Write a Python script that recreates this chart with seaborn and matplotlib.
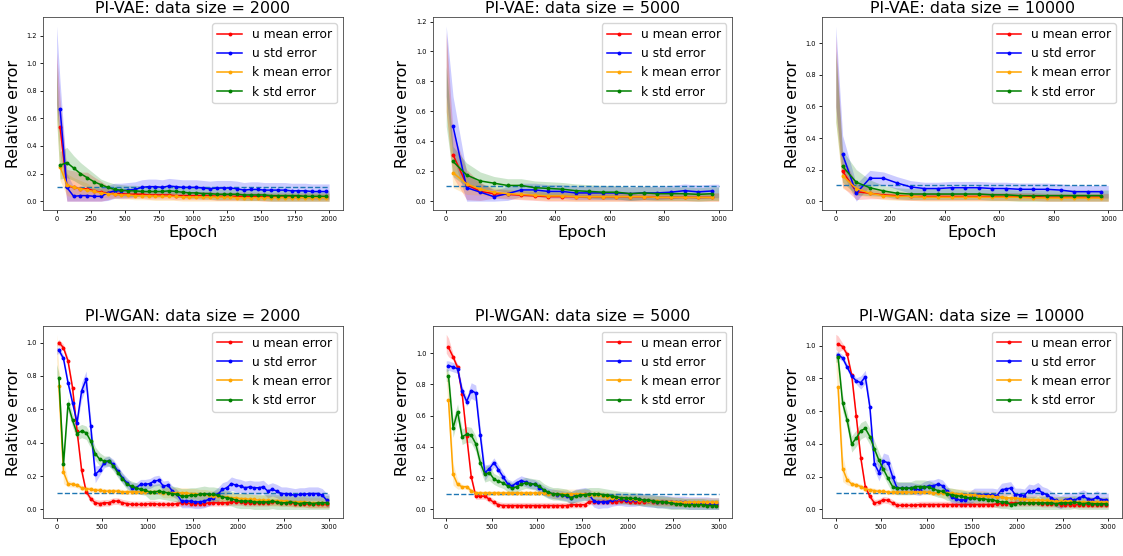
import numpy as np
import matplotlib
matplotlib.use("Agg")
import matplotlib.pyplot as plt
import seaborn as sns

SERIES = ["u mean error", "u std error", "k mean error", "k std error"]
COLORS = ["red", "blue", "orange", "green"]

# ---------------- PI-VAE, data size 2000 (2000 epochs, smoothed every 50) ----------------
vae2000_u_mean = [0.54, 0.11, 0.10, 0.09, 0.09, 0.075, 0.065, 0.06, 0.055, 0.055,
                  0.05, 0.05, 0.05, 0.045, 0.045, 0.045, 0.045, 0.04, 0.04, 0.04,
                  0.04, 0.04, 0.04, 0.035, 0.035, 0.035, 0.035, 0.035, 0.035, 0.035,
                  0.03, 0.03, 0.03, 0.03, 0.03, 0.03, 0.03, 0.03, 0.03, 0.03]
vae2000_u_std = [0.67, 0.10, 0.035, 0.04, 0.04, 0.035, 0.035, 0.06, 0.075, 0.075,
                 0.08, 0.085, 0.10, 0.105, 0.105, 0.10, 0.11, 0.105, 0.10, 0.10,
                 0.10, 0.095, 0.09, 0.095, 0.095, 0.095, 0.09, 0.08, 0.085, 0.085,
                 0.08, 0.08, 0.08, 0.08, 0.075, 0.075, 0.075, 0.07, 0.07, 0.07]
vae2000_k_mean = [0.25, 0.12, 0.10, 0.09, 0.08, 0.07, 0.06, 0.055, 0.05, 0.045,
                  0.045, 0.04, 0.04, 0.04, 0.035, 0.035, 0.035, 0.035, 0.03, 0.03,
                  0.03, 0.03, 0.03, 0.03, 0.03, 0.03, 0.025, 0.025, 0.025, 0.025,
                  0.025, 0.025, 0.025, 0.025, 0.025, 0.025, 0.025, 0.025, 0.025, 0.025]
vae2000_k_std = [0.26, 0.28, 0.24, 0.20, 0.17, 0.14, 0.12, 0.10, 0.085, 0.08,
                 0.075, 0.075, 0.07, 0.07, 0.07, 0.07, 0.075, 0.07, 0.065, 0.06,
                 0.06, 0.055, 0.055, 0.05, 0.05, 0.05, 0.05, 0.045, 0.045, 0.045,
                 0.045, 0.04, 0.04, 0.04, 0.04, 0.04, 0.035, 0.035, 0.035, 0.035]
# half-width of the raw (per-epoch) fluctuation around each smoothed point
vae2000_u_mean_spread = [0.2, 0.12, 0.12, 0.12, 0.12, 0.10, 0.08, 0.05] + [0.03] * 32
vae2000_u_std_spread = [0.2, 0.1, 0.07, 0.06, 0.06, 0.06, 0.06] + [0.055] * 33
vae2000_k_mean_spread = [0.1, 0.08, 0.07, 0.06, 0.05] + [0.03] * 35
vae2000_k_std_spread = [0.1, 0.11, 0.09, 0.08, 0.07, 0.06] + [0.04] * 34
# raw values at epoch 0 (upper / lower end of the initial spike)
vae2000_start_hi = [1.08, 1.27, 1.0, 1.0]
vae2000_start_lo = [0.7, 0.7, 0.6, 0.6]

# ---------------- PI-VAE, data size 5000 (1000 epochs) ----------------
vae5000_u_mean = [0.31, 0.11, 0.065, 0.05, 0.045, 0.04, 0.035, 0.03, 0.03, 0.03,
                  0.03, 0.03, 0.03, 0.03, 0.03, 0.025, 0.025, 0.025, 0.025, 0.025]
vae5000_u_std = [0.50, 0.09, 0.06, 0.03, 0.05, 0.075, 0.075, 0.065, 0.065, 0.055,
                 0.055, 0.055, 0.055, 0.05, 0.055, 0.055, 0.06, 0.07, 0.062, 0.068]
vae5000_k_mean = [0.19, 0.115, 0.08, 0.06, 0.05, 0.045, 0.04, 0.035, 0.035, 0.03,
                  0.03, 0.03, 0.03, 0.03, 0.03, 0.025, 0.025, 0.025, 0.025, 0.025]
vae5000_k_std = [0.265, 0.175, 0.135, 0.12, 0.105, 0.105, 0.09, 0.085, 0.08, 0.07,
                 0.065, 0.06, 0.06, 0.05, 0.055, 0.05, 0.05, 0.05, 0.045, 0.05]
vae5000_u_mean_spread = [0.15, 0.1, 0.06] + [0.03] * 17
vae5000_u_std_spread = [0.2, 0.1, 0.06] + [0.045] * 17
vae5000_k_mean_spread = [0.1, 0.07, 0.04] + [0.03] * 17
vae5000_k_std_spread = [0.1, 0.08, 0.06] + [0.045] * 17
vae5000_start_hi = [1.13, 1.17, 1.10, 0.90]
vae5000_start_lo = [0.6, 0.7, 0.6, 0.5]

# ---------------- PI-VAE, data size 10000 (1000 epochs) ----------------
vae10000_u_mean = [0.19, 0.06, 0.05, 0.04, 0.035, 0.03, 0.03, 0.03, 0.03, 0.03,
                   0.03, 0.03, 0.03, 0.03, 0.03, 0.025, 0.025, 0.025, 0.025, 0.025]
vae10000_u_std = [0.296, 0.05, 0.145, 0.145, 0.115, 0.09, 0.08, 0.08, 0.085, 0.085,
                  0.085, 0.08, 0.08, 0.075, 0.075, 0.075, 0.07, 0.06, 0.06, 0.06]
vae10000_k_mean = [0.16, 0.08, 0.05, 0.035, 0.03, 0.03, 0.025, 0.025, 0.025, 0.025,
                   0.025, 0.025, 0.025, 0.025, 0.02, 0.02, 0.02, 0.02, 0.02, 0.02]
vae10000_k_std = [0.22, 0.12, 0.085, 0.065, 0.05, 0.045, 0.045, 0.045, 0.045, 0.045,
                  0.045, 0.04, 0.04, 0.035, 0.035, 0.035, 0.035, 0.035, 0.035, 0.035]
vae10000_u_mean_spread = [0.1, 0.05, 0.035] + [0.025] * 17
vae10000_u_std_spread = [0.12, 0.06, 0.05] + [0.04] * 17
vae10000_k_mean_spread = [0.08, 0.04] + [0.025] * 18
vae10000_k_std_spread = [0.1, 0.08, 0.05] + [0.035] * 17
vae10000_start_hi = [1.05, 1.11, 0.95, 0.95]
vae10000_start_lo = [0.6, 0.6, 0.5, 0.5]

# ---------------- PI-WGAN, data size 2000 (3000 epochs) ----------------
wgan2000_u_mean = [1.00, 0.97, 0.89, 0.73, 0.47, 0.235, 0.107, 0.065, 0.04, 0.035,
                   0.04, 0.04, 0.05, 0.05, 0.04, 0.035, 0.03, 0.03, 0.03, 0.03,
                   0.035, 0.035, 0.03, 0.03, 0.03, 0.03, 0.035, 0.04, 0.04, 0.035,
                   0.035, 0.035, 0.035, 0.04, 0.04, 0.04, 0.04, 0.04, 0.045, 0.045,
                   0.045, 0.04, 0.04, 0.04, 0.04, 0.04, 0.04, 0.045, 0.045, 0.04,
                   0.04, 0.04, 0.035, 0.035, 0.035, 0.03, 0.03, 0.03, 0.03, 0.03]
wgan2000_u_std = [0.955, 0.905, 0.76, 0.64, 0.52, 0.71, 0.78, 0.50, 0.21, 0.235,
                  0.28, 0.29, 0.27, 0.23, 0.19, 0.16, 0.13, 0.13, 0.15, 0.15,
                  0.155, 0.17, 0.175, 0.14, 0.145, 0.11, 0.09, 0.05, 0.05, 0.05,
                  0.045, 0.045, 0.05, 0.06, 0.07, 0.09, 0.12, 0.13, 0.155, 0.145,
                  0.14, 0.13, 0.135, 0.13, 0.13, 0.135, 0.11, 0.12, 0.11, 0.095,
                  0.095, 0.09, 0.085, 0.09, 0.09, 0.095, 0.095, 0.095, 0.085, 0.055]
wgan2000_k_mean = [0.74, 0.225, 0.155, 0.15, 0.145, 0.13, 0.125, 0.12, 0.115, 0.115,
                   0.11, 0.11, 0.11, 0.11, 0.105, 0.105, 0.105, 0.105, 0.105, 0.105,
                   0.105, 0.105, 0.105, 0.10, 0.10, 0.10, 0.10, 0.10, 0.10, 0.095,
                   0.095, 0.09, 0.09, 0.085, 0.08, 0.08, 0.075, 0.075, 0.07, 0.07,
                   0.065, 0.065, 0.06, 0.06, 0.055, 0.055, 0.055, 0.05, 0.05, 0.05,
                   0.05, 0.045, 0.045, 0.045, 0.045, 0.04, 0.04, 0.04, 0.04, 0.04]
wgan2000_k_std = [0.79, 0.27, 0.63, 0.535, 0.455, 0.47, 0.46, 0.41, 0.335, 0.30,
                  0.29, 0.29, 0.26, 0.22, 0.185, 0.15, 0.14, 0.13, 0.12, 0.115,
                  0.105, 0.105, 0.11, 0.105, 0.10, 0.095, 0.09, 0.08, 0.08, 0.085,
                  0.085, 0.09, 0.095, 0.09, 0.09, 0.085, 0.075, 0.07, 0.065, 0.055,
                  0.05, 0.05, 0.05, 0.045, 0.045, 0.045, 0.045, 0.05, 0.045, 0.04,
                  0.04, 0.045, 0.04, 0.035, 0.04, 0.04, 0.035, 0.04, 0.04, 0.04]
wgan2000_u_mean_spread = [0.02] * 60
wgan2000_u_std_spread = [0.02] * 5 + [0.05] * 4 + [0.03] * 18 + [0.04] * 33
wgan2000_k_mean_spread = [0.10, 0.07, 0.02] + [0.015] * 20 + [0.03] * 37
wgan2000_k_std_spread = [0.03, 0.05] + [0.04] * 8 + [0.03] * 10 + [0.045] * 40
wgan2000_start_hi = [1.0, 0.97, 1.05, 0.87]
wgan2000_start_lo = [0.98, 0.93, 0.90, 0.80]

# ---------------- PI-WGAN, data size 5000 (3000 epochs) ----------------
wgan5000_u_mean = [1.036, 0.976, 0.908, 0.74, 0.47, 0.21, 0.085, 0.085, 0.085, 0.065,
                   0.045, 0.03, 0.025, 0.025, 0.025, 0.025, 0.025, 0.025, 0.025, 0.025,
                   0.025, 0.025, 0.025, 0.025, 0.025, 0.025, 0.025, 0.03, 0.03, 0.03,
                   0.03, 0.05, 0.05, 0.05, 0.05, 0.05, 0.05, 0.05, 0.055, 0.055,
                   0.05, 0.05, 0.05, 0.05, 0.055, 0.05, 0.045, 0.05, 0.045, 0.045,
                   0.04, 0.04, 0.04, 0.035, 0.035, 0.035, 0.035, 0.03, 0.03, 0.03]
wgan5000_u_std = [0.92, 0.91, 0.90, 0.76, 0.69, 0.76, 0.745, 0.475, 0.235, 0.26,
                  0.30, 0.255, 0.21, 0.165, 0.15, 0.17, 0.185, 0.175, 0.165, 0.16,
                  0.14, 0.12, 0.105, 0.10, 0.095, 0.09, 0.085, 0.075, 0.09, 0.095,
                  0.10, 0.09, 0.055, 0.045, 0.05, 0.05, 0.06, 0.065, 0.065, 0.06,
                  0.06, 0.06, 0.065, 0.06, 0.055, 0.055, 0.05, 0.05, 0.05, 0.045,
                  0.045, 0.045, 0.045, 0.04, 0.04, 0.04, 0.04, 0.04, 0.035, 0.035]
wgan5000_k_mean = [0.70, 0.225, 0.16, 0.145, 0.145, 0.12, 0.105, 0.105, 0.105, 0.105,
                   0.105, 0.105, 0.105, 0.105, 0.105, 0.105, 0.105, 0.105, 0.105, 0.105,
                   0.105, 0.105, 0.10, 0.10, 0.10, 0.10, 0.10, 0.10, 0.10, 0.10,
                   0.10, 0.095, 0.09, 0.09, 0.085, 0.08, 0.075, 0.075, 0.07, 0.07,
                   0.065, 0.065, 0.06, 0.06, 0.055, 0.055, 0.055, 0.05, 0.05, 0.05,
                   0.05, 0.045, 0.045, 0.045, 0.045, 0.045, 0.045, 0.045, 0.045, 0.045]
wgan5000_k_std = [0.855, 0.52, 0.625, 0.465, 0.48, 0.475, 0.42, 0.30, 0.225, 0.235,
                  0.195, 0.18, 0.17, 0.15, 0.135, 0.145, 0.16, 0.17, 0.165, 0.16,
                  0.15, 0.125, 0.11, 0.10, 0.10, 0.095, 0.09, 0.075, 0.085, 0.09,
                  0.095, 0.10, 0.10, 0.10, 0.095, 0.09, 0.085, 0.08, 0.075, 0.075,
                  0.07, 0.07, 0.065, 0.06, 0.06, 0.055, 0.05, 0.05, 0.045, 0.04,
                  0.035, 0.035, 0.03, 0.03, 0.03, 0.03, 0.03, 0.025, 0.025, 0.025]
wgan5000_u_mean_spread = [0.06, 0.02] + [0.02] * 58
wgan5000_u_std_spread = [0.03] * 5 + [0.05] * 4 + [0.03] * 18 + [0.04] * 33
wgan5000_k_mean_spread = [0.12, 0.07, 0.03] + [0.015] * 20 + [0.03] * 37
wgan5000_k_std_spread = [0.04, 0.06] + [0.05] * 8 + [0.035] * 10 + [0.04] * 40
wgan5000_start_hi = [1.12, 0.95, 0.93, 0.90]
wgan5000_start_lo = [1.0, 0.88, 0.85, 0.82]

# ---------------- PI-WGAN, data size 10000 (3000 epochs) ----------------
wgan10000_u_mean = [1.01, 0.995, 0.947, 0.82, 0.57, 0.315, 0.137, 0.08, 0.04, 0.045,
                    0.06, 0.055, 0.04, 0.025, 0.025, 0.025, 0.025, 0.025, 0.03, 0.03,
                    0.03, 0.03, 0.03, 0.03, 0.03, 0.03, 0.03, 0.03, 0.03, 0.03,
                    0.03, 0.03, 0.03, 0.03, 0.03, 0.035, 0.035, 0.035, 0.04, 0.04,
                    0.04, 0.04, 0.04, 0.04, 0.04, 0.035, 0.035, 0.035, 0.035, 0.03,
                    0.03, 0.03, 0.03, 0.03, 0.03, 0.03, 0.03, 0.03, 0.03, 0.03]
wgan10000_u_std = [0.945, 0.925, 0.87, 0.815, 0.785, 0.775, 0.81, 0.625, 0.28, 0.225,
                   0.295, 0.285, 0.20, 0.13, 0.13, 0.13, 0.13, 0.125, 0.12, 0.135,
                   0.145, 0.145, 0.155, 0.145, 0.11, 0.075, 0.065, 0.055, 0.06, 0.07,
                   0.09, 0.09, 0.09, 0.09, 0.09, 0.085, 0.12, 0.125, 0.13, 0.09,
                   0.09, 0.085, 0.115, 0.11, 0.125, 0.10, 0.09, 0.07, 0.055, 0.045,
                   0.06, 0.065, 0.055, 0.07, 0.08, 0.065, 0.06, 0.075, 0.06, 0.06]
wgan10000_k_mean = [0.745, 0.25, 0.18, 0.155, 0.15, 0.14, 0.125, 0.12, 0.115, 0.11,
                    0.11, 0.105, 0.105, 0.105, 0.105, 0.105, 0.105, 0.105, 0.105, 0.105,
                    0.105, 0.10, 0.10, 0.10, 0.10, 0.10, 0.095, 0.095, 0.09, 0.09,
                    0.09, 0.085, 0.085, 0.08, 0.08, 0.075, 0.075, 0.07, 0.07, 0.07,
                    0.065, 0.065, 0.06, 0.06, 0.06, 0.055, 0.055, 0.05, 0.05, 0.05,
                    0.05, 0.05, 0.045, 0.045, 0.045, 0.045, 0.045, 0.045, 0.045, 0.045]
wgan10000_k_std = [0.93, 0.65, 0.545, 0.40, 0.435, 0.48, 0.495, 0.445, 0.37, 0.30,
                   0.245, 0.19, 0.14, 0.13, 0.13, 0.13, 0.13, 0.14, 0.14, 0.14,
                   0.135, 0.125, 0.115, 0.11, 0.095, 0.09, 0.085, 0.08, 0.075, 0.07,
                   0.07, 0.065, 0.065, 0.06, 0.06, 0.05, 0.045, 0.045, 0.03, 0.035,
                   0.04, 0.04, 0.04, 0.04, 0.04, 0.04, 0.04, 0.04, 0.035, 0.04,
                   0.04, 0.04, 0.045, 0.04, 0.035, 0.04, 0.035, 0.035, 0.035, 0.035]
wgan10000_u_mean_spread = [0.05] + [0.02] * 59
wgan10000_u_std_spread = [0.02] * 5 + [0.04] * 4 + [0.05] * 4 + [0.035] * 14 + [0.04] * 33
wgan10000_k_mean_spread = [0.15, 0.08, 0.03] + [0.015] * 20 + [0.03] * 37
wgan10000_k_std_spread = [0.03, 0.05] + [0.05] * 8 + [0.04] * 10 + [0.04] * 40
wgan10000_start_hi = [1.07, 0.96, 0.97, 0.95]
wgan10000_start_lo = [0.98, 0.92, 0.90, 0.90]

titles = ["PI-VAE: data size = 2000", "PI-VAE: data size = 5000",
          "PI-VAE: data size = 10000", "PI-WGAN: data size = 2000",
          "PI-WGAN: data size = 5000", "PI-WGAN: data size = 10000"]
n_epochs = [2000, 1000, 1000, 3000, 3000, 3000]
x_ticks = [np.arange(0, 2001, 250), np.arange(0, 1001, 200), np.arange(0, 1001, 200),
           np.arange(0, 3001, 500), np.arange(0, 3001, 500), np.arange(0, 3001, 500)]

panel_means = [
    [vae2000_u_mean, vae2000_u_std, vae2000_k_mean, vae2000_k_std],
    [vae5000_u_mean, vae5000_u_std, vae5000_k_mean, vae5000_k_std],
    [vae10000_u_mean, vae10000_u_std, vae10000_k_mean, vae10000_k_std],
    [wgan2000_u_mean, wgan2000_u_std, wgan2000_k_mean, wgan2000_k_std],
    [wgan5000_u_mean, wgan5000_u_std, wgan5000_k_mean, wgan5000_k_std],
    [wgan10000_u_mean, wgan10000_u_std, wgan10000_k_mean, wgan10000_k_std],
]
panel_spreads = [
    [vae2000_u_mean_spread, vae2000_u_std_spread, vae2000_k_mean_spread, vae2000_k_std_spread],
    [vae5000_u_mean_spread, vae5000_u_std_spread, vae5000_k_mean_spread, vae5000_k_std_spread],
    [vae10000_u_mean_spread, vae10000_u_std_spread, vae10000_k_mean_spread, vae10000_k_std_spread],
    [wgan2000_u_mean_spread, wgan2000_u_std_spread, wgan2000_k_mean_spread, wgan2000_k_std_spread],
    [wgan5000_u_mean_spread, wgan5000_u_std_spread, wgan5000_k_mean_spread, wgan5000_k_std_spread],
    [wgan10000_u_mean_spread, wgan10000_u_std_spread, wgan10000_k_mean_spread, wgan10000_k_std_spread],
]
panel_start_hi = [vae2000_start_hi, vae5000_start_hi, vae10000_start_hi,
                  wgan2000_start_hi, wgan5000_start_hi, wgan10000_start_hi]
panel_start_lo = [vae2000_start_lo, vae5000_start_lo, vae10000_start_lo,
                  wgan2000_start_lo, wgan5000_start_lo, wgan10000_start_lo]

plt.rcParams["font.family"] = ["DejaVu Sans"]

fig, axes = plt.subplots(2, 3, figsize=(11.23, 5.56), dpi=100)
fig.subplots_adjust(left=0.0383, right=0.999, bottom=0.068, top=0.969,
                    wspace=0.30, hspace=0.60)

for idx, ax in enumerate(axes.flat):
    n = n_epochs[idx]
    epochs = np.arange(25, n, 50)

    # raw per-epoch fluctuation as a faint band
    for s in range(4):
        mean = np.asarray(panel_means[idx][s], dtype=float)
        spread = np.asarray(panel_spreads[idx][s], dtype=float)
        bx = np.concatenate([[0], epochs, [n]])
        lo = np.concatenate([[panel_start_lo[idx][s]], np.clip(mean - spread, 0, None),
                             [max(mean[-1] - spread[-1], 0)]])
        hi = np.concatenate([[panel_start_hi[idx][s]], mean + spread,
                             [mean[-1] + spread[-1]]])
        ax.fill_between(bx, lo, hi, color=COLORS[s], alpha=0.2, linewidth=0, zorder=1)

    # smoothed curves with markers
    for s in range(4):
        sns.lineplot(x=epochs, y=panel_means[idx][s], ax=ax, color=COLORS[s],
                     marker="o", markersize=2.8, markeredgewidth=0, linewidth=1.1,
                     label=SERIES[s], errorbar=None, zorder=3)

    ax.hlines(0.1, 0, n, colors="#1f77b4", linestyles="--", linewidth=1.0, zorder=2)

    ax.set_xticks(x_ticks[idx])
    ax.set_title(titles[idx], fontsize=11.4, pad=3)
    ax.set_xlabel("Epoch", fontsize=11.6, labelpad=2)
    ax.set_ylabel("Relative error", fontsize=11.4, labelpad=4)
    ax.tick_params(labelsize=4.8, length=2.4, width=0.6, pad=2)
    for sp in ax.spines.values():
        sp.set_linewidth(0.6)
        sp.set_color("#444444")
    ax.legend(loc="upper right", fontsize=8.8, handlelength=2.0,
              borderaxespad=0.5, framealpha=0.8)

fig.savefig("out.png", dpi=100)
